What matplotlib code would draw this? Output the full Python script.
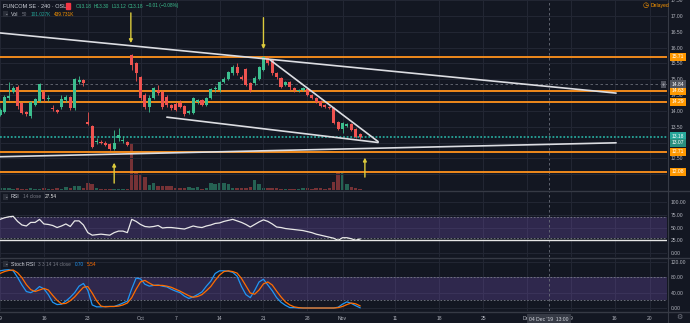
import matplotlib.pyplot as plt
from matplotlib.patches import Rectangle

plt.rcParams['font.family'] = ['Liberation Sans', 'DejaVu Sans']

# FUNCOM SE, 240 min bars on OSL (bar 0 = 9 Sep 09:00)
opens = [13.87, 13.97, 14.42, 14.60, 14.75, 14.25, 13.96, 13.84, 14.19, 14.31,
         14.60, 14.36, 14.09, 14.03, 14.12, 14.34, 14.44, 14.09, 14.91, 14.97,
         13.64, 13.52, 13.01, 13.02, 12.99, 12.96, 12.80, 13.14, 13.04, 13.02,
         15.76, 15.51, 15.07, 14.50, 14.12, 14.41, 14.66, 14.60, 14.44, 14.19,
         14.22, 14.25, 14.15, 13.93, 13.93, 14.28, 14.34, 14.19, 14.41, 14.69,
         14.66, 14.91, 15.01, 15.20, 15.38, 15.07, 15.32, 14.88, 14.88, 15.01,
         15.29, 15.67, 15.61, 15.20, 15.04, 14.82, 14.91, 14.72, 14.63, 14.66,
         14.69, 14.50, 14.41, 14.31, 14.19, 14.12, 14.09, 13.65, 13.43, 13.52,
         13.59, 13.43, 13.28]
highs = [14.08, 14.50, 14.91, 14.78, 14.82, 14.28, 14.00, 14.30, 14.42, 14.88,
         14.66, 14.50, 14.20, 14.06, 14.50, 14.50, 14.47, 15.04, 15.10, 15.00,
         13.96, 13.55, 13.15, 13.08, 13.04, 12.99, 13.40, 13.46, 13.20, 13.05,
         15.80, 15.55, 15.10, 14.55, 14.50, 14.76, 14.82, 14.66, 14.50, 14.22,
         14.28, 14.34, 14.20, 14.03, 14.44, 14.38, 14.38, 14.44, 14.72, 14.78,
         14.94, 15.07, 15.26, 15.45, 15.50, 15.14, 15.35, 14.91, 15.10, 15.42,
         15.73, 15.72, 15.65, 15.23, 15.07, 14.94, 14.94, 14.75, 14.69, 14.75,
         14.72, 14.53, 14.44, 14.34, 14.22, 14.15, 14.12, 13.68, 13.65, 13.62,
         13.62, 13.46, 13.30]
lows = [13.84, 13.93, 14.34, 14.55, 14.06, 13.90, 13.84, 13.76, 14.16, 14.28,
        14.31, 14.30, 14.00, 13.93, 14.06, 14.28, 14.03, 14.03, 14.85, 14.80,
        13.55, 12.83, 12.96, 12.95, 12.88, 12.76, 12.76, 13.04, 12.98, 12.88,
        15.30, 14.95, 14.35, 14.05, 13.97, 14.38, 14.50, 14.06, 14.12, 14.03,
        13.99, 14.09, 13.84, 13.90, 13.90, 14.22, 14.15, 14.15, 14.38, 14.60,
        14.60, 14.88, 14.97, 15.14, 15.14, 14.97, 14.78, 14.60, 14.82, 14.97,
        15.26, 15.45, 15.14, 15.01, 14.72, 14.78, 14.66, 14.60, 14.60, 14.63,
        14.47, 14.38, 14.25, 14.12, 14.09, 14.06, 13.59, 13.40, 13.30, 13.49,
        13.37, 13.15, 13.12]
closes = [14.03, 14.45, 14.46, 14.72, 14.15, 13.93, 13.90, 14.28, 14.38, 14.85,
          14.38, 14.41, 14.06, 13.96, 14.38, 14.44, 14.09, 15.01, 14.97, 14.88,
          13.59, 12.86, 13.04, 12.99, 12.92, 12.80, 12.99, 13.24, 13.07, 12.92,
          15.45, 15.20, 14.41, 14.12, 14.41, 14.72, 14.56, 14.12, 14.19, 14.09,
          14.03, 14.12, 13.90, 13.99, 14.41, 14.34, 14.19, 14.41, 14.69, 14.72,
          14.91, 15.01, 15.23, 15.38, 15.20, 15.01, 14.82, 14.66, 15.04, 15.38,
          15.70, 15.51, 15.20, 15.07, 14.75, 14.91, 14.75, 14.66, 14.66, 14.72,
          14.50, 14.41, 14.28, 14.15, 14.12, 14.09, 13.62, 13.43, 13.62, 13.59,
          13.40, 13.18, 13.18]
volumes = [200, 200, 200, 150, 200, 150, 100, 200, 100, 150,
           200, 100, 100, 200, 150, 300, 200, 400, 400, 200,
           700, 600, 200, 100, 150, 100, 100, 150, 150, 100,
           4700, 1700, 1600, 1300, 500, 700, 400, 400, 400, 400,
           200, 200, 200, 300, 200, 300, 150, 200, 700, 600,
           750, 750, 600, 200, 200, 200, 200, 300, 1000, 600,
           200, 250, 200, 200, 150, 100, 100, 100, 150, 200,
           200, 150, 200, 200, 150, 200, 800, 1700, 1700, 600,
           300, 200, 100]
rsi = [66, 69, 71, 72, 62, 55, 53, 60, 60, 66,
       57, 56, 54, 50, 53, 57, 52, 63, 63, 55,
       40, 35, 36, 37, 36, 35, 40, 43, 43, 40,
       66, 62, 56, 52, 51, 52, 54, 49, 50, 50,
       49, 48, 47, 50, 53, 51, 50, 53, 55, 58,
       59, 62, 64, 66, 63, 60, 56, 51, 56, 61,
       65, 62, 57, 51, 50, 48, 47, 46, 45, 44,
       42, 40, 37, 35, 33, 31, 29, 25, 30, 30,
       28, 25, 27.54]
stoch_k = [97, 99, 100, 97, 80, 60, 43, 40, 46, 56,
           50, 35, 15, 9, 10, 18, 28, 40, 57, 64,
           46, 8, 3, 3, 4, 4, 4, 8, 13, 18,
           50, 78, 76, 62, 57, 59, 60, 57, 55, 49,
           44, 40, 31, 25, 29, 35, 42, 57, 70, 90,
           97, 97, 96, 93, 83, 56, 35, 27, 46, 68,
           75, 60, 45, 27, 15, 7, 1, 1, 0, 0,
           0, 0, 0, 0, 0, 0, 0, 2, 10, 16,
           12, 6, 0.70]
stoch_d = [90, 95, 98, 99, 92, 79, 61, 48, 43, 47,
           51, 47, 33, 20, 11, 12, 19, 29, 42, 54,
           56, 39, 19, 5, 3, 4, 4, 5, 8, 13,
           27, 49, 68, 72, 65, 59, 59, 59, 57, 54,
           49, 44, 38, 32, 28, 30, 35, 45, 56, 72,
           86, 95, 97, 95, 91, 77, 58, 39, 36, 47,
           63, 68, 60, 44, 29, 16, 8, 3, 1, 0,
           0, 0, 0, 0, 0, 0, 0, 1, 4, 9,
           13, 11, 5.54]

level_prices = [15.71, 14.63, 14.29, 12.71, 12.08]
last_price = 13.18
bid_price = 13.07
cross_price = 14.84
cross_bar = 125
price_ticks = [12.0, 12.5, 13.0, 13.5, 14.0, 14.5, 15.0, 15.5, 16.0, 16.5, 17.0, 17.5]
price_labels = ['', '12.50', '13.00', '13.50', '14.00', '14.50', '15.00', '15.50',
                '16.00', '16.50', '17.00', '17.50']
date_ticks = [0, 10, 20, 32, 40, 50, 60, 70, 78, 90, 100, 110, 120, 130, 140, 148]
date_labels = ['9', '16', '23', 'Oct', '7', '14', '21', '28', 'Nov', '11', '18', '25', 'Dec', '9', '16', '20']

# drawings: ((bar, price), (bar, price))
trend_lines = [((0, 16.46), (140.3, 14.56)),
               ((61.5, 15.61), (86.1, 13.03)),
               ((38.0, 13.80), (86.1, 13.00)),
               ((0, 12.55), (140.3, 12.99))]
# arrows: (bar, tail price, tip price)
arrows = [(29.8, 17.18, 16.05), (60.0, 17.03, 15.86), (26.0, 11.63, 12.45), (83.1, 11.82, 12.61)]

BG = '#131722'
GRID = '#232734'
SEP = '#363a45'
TXT = '#b2b5be'
UP = '#3cbf8f'
DOWN = '#ef5350'
ORANGE = '#f08a1c'
W, H = 690, 323


def fx(px):
    return px / W


def fy(py):
    return 1 - py / H


def legend_row(host, x, y, parts):
    # parts: list of (text, color, size, gap_before_in_points)
    txt, col, size, _ = parts[0]
    prev = fig.text(fx(x), fy(y), txt, fontsize=size, color=col, va='center')
    for txt, col, size, gap in parts[1:]:
        prev = host.annotate(txt, xy=(1, 0.5), xycoords=prev, xytext=(gap, 0),
                             textcoords='offset points', va='center', ha='left',
                             fontsize=size, color=col, annotation_clip=False)
    return prev


fig = plt.figure(figsize=(6.9, 3.23), dpi=100, facecolor=BG)
ax_v = fig.add_axes([0, fy(190), fx(667), fy(0) - fy(190)], facecolor=BG)
ax = fig.add_axes([0, fy(190), fx(667), fy(0) - fy(190)], sharex=ax_v)
ax_r = fig.add_axes([0, fy(257), fx(667), fy(191) - fy(257)], sharex=ax_v, facecolor=BG)
ax_s = fig.add_axes([0, fy(311), fx(667), fy(259) - fy(311)], sharex=ax_v, facecolor=BG)
ax.patch.set_visible(False)
ax.set_zorder(ax_v.get_zorder() + 1)

for a in (ax_v, ax, ax_r, ax_s):
    for s in a.spines.values():
        s.set_visible(False)
    a.tick_params(length=0, labelsize=3.6, colors=TXT, pad=2.5)
    a.yaxis.tick_right()

ax_v.set_xlim(0, 151.9)
ax_v.set_yticks([])
ax_v.set_ylim(0, 19000)
ax_v.set_xticks(date_ticks)
ax_v.grid(axis='x', color=GRID, lw=0.7)
ax_v.tick_params(labelbottom=False)

# volume
n = len(closes)
idx = list(range(n))
up = [c >= o for o, c in zip(opens, closes)]
ax_v.bar(idx, volumes, width=0.8, color=[UP if u else DOWN for u in up], alpha=0.45)

# price pane
ax.set_ylim(11.5, 17.5)
ax.set_yticks(price_ticks)
ax.set_yticklabels(price_labels)
ax.grid(axis='y', color=GRID, lw=0.7)
ax.set_axisbelow(True)
ax.tick_params(labelbottom=False)

cols = [UP if u else DOWN for u in up]
ax.vlines(idx, lows, highs, colors=cols, lw=0.6, zorder=3)
body_lo = [min(o, c) for o, c in zip(opens, closes)]
body_h = [max(abs(c - o), 0.015) for o, c in zip(opens, closes)]
ax.bar(idx, body_h, bottom=body_lo, width=0.7, color=cols, zorder=4)

for p in level_prices:
    ax.axhline(p, color=ORANGE, lw=1.4, zorder=2)
ax.axhline(last_price, color='#26a69a', lw=1.3, ls=(0, (1, 1)), zorder=2)
ax.axhline(cross_price, color='#6a6e79', lw=0.6, ls=(0, (3, 3)), zorder=2)

for (x0, y0), (x1, y1) in trend_lines:
    ax.plot([x0, x1], [y0, y1], color='#dcdde2', lw=1.2, zorder=5, solid_capstyle='round')

for x, tail, tip in arrows:
    ax.annotate('', xy=(x, tip), xytext=(x, tail),
                arrowprops=dict(arrowstyle='-|>', color='#dccb3c', lw=1.0, mutation_scale=5),
                zorder=6)

# right-axis price boxes
tr = ax.get_yaxis_transform()
box_kw = dict(transform=tr, ha='left', va='center', fontsize=3.6, color='white',
              clip_on=False, zorder=10)
for p in level_prices:
    ax.text(1.007, p, '%.2f' % p, bbox=dict(boxstyle='square,pad=0.3', fc='#ff9800', ec='none'), **box_kw)
ax.text(1.007, last_price + 0.02, '%.2f' % last_price,
        bbox=dict(boxstyle='square,pad=0.3', fc='#26a69a', ec='none'), **box_kw)
ax.text(1.007, bid_price - 0.08, '%.2f' % bid_price,
        bbox=dict(boxstyle='square,pad=0.3', fc='#2a8f7e', ec='none'), **box_kw)
ax.text(1.007, cross_price, '%.2f' % cross_price,
        bbox=dict(boxstyle='square,pad=0.3', fc='#50535e', ec='none'), **box_kw)
ax.text(0.997, cross_price, '+', transform=tr, ha='right', va='center', fontsize=4,
        color='#d1d4dc', zorder=10,
        bbox=dict(boxstyle='square,pad=0.2', fc='#50535e', ec='none'))

# RSI pane
ax_r.set_ylim(-7.8, 121.6)
ax_r.set_yticks([0, 25, 50, 75, 100])
ax_r.set_yticklabels(['0.00', '25.00', '50.00', '75.00', '100.00'])
ax_r.grid(color=GRID, lw=0.7)
ax_r.set_axisbelow(True)
ax_r.tick_params(labelbottom=False)
ax_r.axhspan(30, 70, color='#7e57c2', alpha=0.27, lw=0)
for v in (30, 70):
    ax_r.axhline(v, color='#787b86', lw=0.6, ls=(0, (2, 2)))
ax_r.axhline(25.5, color='#e6e6e6', lw=1.0)
ax_r.plot(idx, rsi, color='#e8e8e8', lw=0.9)

# Stoch RSI pane
ax_s.set_ylim(-7.8, 127.8)
ax_s.set_yticks([0, 40, 80, 120])
ax_s.set_yticklabels(['0.00', '40.00', '80.00', '120.00'])
ax_s.grid(color=GRID, lw=0.7)
ax_s.set_axisbelow(True)
ax_s.axhspan(20, 80, color='#7e57c2', alpha=0.27, lw=0)
for v in (20, 80):
    ax_s.axhline(v, color='#787b86', lw=0.6, ls=(0, (2, 2)))
ax_s.plot(idx, stoch_k, color='#2196f3', lw=0.9)
ax_s.plot(idx, stoch_d, color='#ff6d00', lw=0.9)
ax_s.set_xticklabels(date_labels)
ax_s.tick_params(axis='x', pad=3.5)

# crosshair vertical
for a in (ax_v, ax_r, ax_s):
    a.axvline(cross_bar, color='#6a6e79', lw=0.6, ls=(0, (3, 3)), zorder=1)
ax_s.text(cross_bar, -0.11, "04 Dec '19  13:00", transform=ax_s.get_xaxis_transform(),
          ha='center', va='top', fontsize=3.6, color='#d1d4dc', clip_on=False, zorder=10,
          bbox=dict(boxstyle='square,pad=0.45', fc='#363a45', ec='none'))

# pane separators
for yy in (190.5, 258, 311.5):
    fig.add_artist(plt.Line2D([0, 1], [fy(yy), fy(yy)], color=SEP, lw=1.0))
fig.add_artist(plt.Line2D([fx(667.5), fx(667.5)], [0, 1], color=SEP, lw=0.8))

# legends / headers
legend_row(ax_v, 3, 6, [('FUNCOM SE · 240 · OSL', '#d1d4dc', 4.0, 0)])
fig.add_artist(Rectangle((fx(66), fy(9)), fx(4), fy(3) - fy(9), color='#f23645'))
legend_row(ax_v, 76, 6, [('O13.18', '#3cbf8f', 3.4, 0), ('H13.30', '#3cbf8f', 3.4, 1.5),
                         ('L13.12', '#3cbf8f', 3.4, 1.5), ('C13.18', '#3cbf8f', 3.4, 1.5),
                         ('\u22120.01 (\u22120.08%)', '#3cbf8f', 3.4, 1.5)])

chev = dict(boxstyle='square,pad=0.15', fc='#2a2e39', ec='none')
for yy in (14, 197, 264):
    fig.text(fx(4), fy(yy), '\u2304', fontsize=3.2, color='#b2b5be', va='center', bbox=chev)

legend_row(ax_v, 11, 14, [('Vol', '#d1d4dc', 3.8, 0), ('50', '#787b86', 3.4, 2),
                          ('101.027K', '#26a69a', 3.4, 3), ('439.731K', '#ff9800', 3.4, 2)])
legend_row(ax_r, 11, 197, [('RSI', '#d1d4dc', 3.8, 0), ('14 close', '#787b86', 3.4, 2),
                           ('27.54', '#e8e8e8', 3.4, 3)])
legend_row(ax_s, 11, 264, [('Stoch RSI', '#d1d4dc', 3.8, 0), ('3 3 14 14 close', '#787b86', 3.4, 2),
                           ('0.70', '#2196f3', 3.4, 3), ('5.54', '#ff6d00', 3.4, 2)])

fig.text(fx(646), fy(6), '\u25f7', fontsize=5, color='#ff9800', va='center', ha='center')
fig.text(fx(651), fy(6), 'Delayed', fontsize=3.6, color='#ff9800', va='center')
fig.text(fx(679), fy(317), '\u2699', fontsize=5, color='#787b86', va='center', ha='center')

fig.savefig('out.png', dpi=100, facecolor=BG)
